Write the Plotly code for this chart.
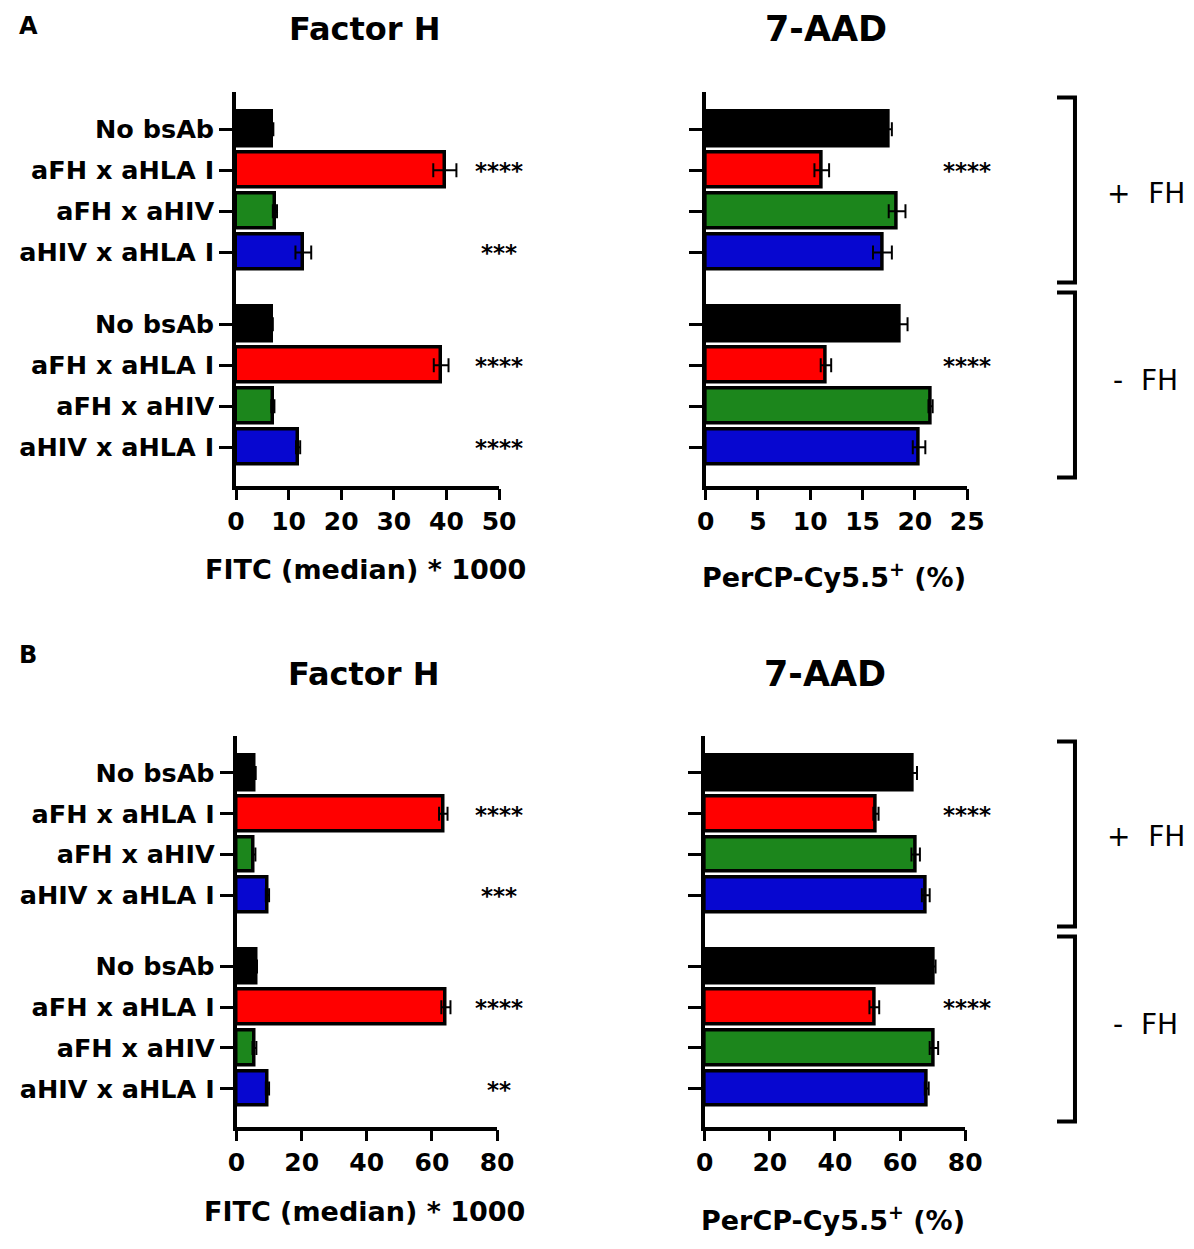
import plotly.graph_objects as go

# rows (two blocks of four: + FH, - FH)
categories = ["No bsAb", "aFH x aHLA I", "aFH x aHIV", "aHIV x aHLA I"]
groups = ["+  FH", "-  FH"]
bar_colors = ["#000000", "#ff0000", "#1c861c", "#0707d0"]

# panel A
a_fh = [6.8, 39.7, 7.4, 12.8, 6.8, 39.0, 7.0, 11.8]
a_fh_err = [0.3, 2.2, 0.4, 1.5, 0.2, 1.4, 0.3, 0.4]
a_fh_sig = ["", "****", "", "***", "", "****", "", "****"]
a_aad = [17.5, 11.1, 18.3, 16.9, 18.5, 11.5, 21.5, 20.4]
a_aad_err = [0.3, 0.7, 0.8, 0.9, 0.8, 0.5, 0.2, 0.6]
a_aad_sig = ["", "****", "", "", "", "****", "", ""]

# panel B
b_fh = [5.6, 63.5, 5.3, 9.5, 6.0, 64.3, 5.5, 9.5]
b_fh_err = [0.3, 1.3, 0.5, 0.5, 0.3, 1.4, 0.6, 0.5]
b_fh_sig = ["", "****", "", "***", "", "****", "", "**"]
b_aad = [64.0, 52.6, 64.8, 67.9, 70.3, 52.1, 70.4, 68.2]
b_aad_err = [1.2, 0.8, 1.3, 1.2, 0.6, 1.5, 1.3, 0.6]
b_aad_sig = ["", "****", "", "", "", "****", "", ""]

W, H = 1194, 1249
FONT = "DejaVu Sans"


# pixel position in the target picture -> paper fraction
# (small correction for the page offset seen in the screenshot)
def px(x):
    return max((x - 14.1) / 0.98, 0) / W


def py(y):
    return 1 - (y - 8.5) / H


# row positions: four rows, a gap, four rows
ypos = [i + g * 4.75 for g in range(2) for i in range(4)]
row_cols = bar_colors * 2

panels = [
    dict(vals=a_fh, err=a_fh_err, sig=a_fh_sig, x0=233.5, x1=497, top=92, bot=486,
         rng=50, dtick=10, labels=True, title="Factor H", tsize=32, tx=-3, ty=0,
         xtitle="FITC (median) * 1000", star_x=497),
    dict(vals=a_aad, err=a_aad_err, sig=a_aad_sig, x0=704, x1=966, top=92, bot=486,
         rng=25, dtick=5, labels=False, title="7-AAD", tsize=35, tx=-10, ty=6,
         xtitle="PerCP-Cy5.5<sup>+</sup> (%)", star_x=966),
    dict(vals=b_fh, err=b_fh_err, sig=b_fh_sig, x0=234, x1=495, top=736, bot=1127,
         rng=80, dtick=20, labels=True, title="Factor H", tsize=32, tx=-3, ty=1,
         xtitle="FITC (median) * 1000", star_x=497),
    dict(vals=b_aad, err=b_aad_err, sig=b_aad_sig, x0=703, x1=964, top=736, bot=1127,
         rng=80, dtick=20, labels=False, title="7-AAD", tsize=35, tx=-10, ty=8,
         xtitle="PerCP-Cy5.5<sup>+</sup> (%)", star_x=966),
]

fig = go.Figure()
annotations = []
shapes = []


def note(text, x, y, size, bold=True, yref="paper", yshift=0, xanchor="center"):
    annotations.append(dict(text=text, x=x, y=y, xref="paper", yref=yref, xanchor=xanchor,
                            yanchor="middle", showarrow=False, yshift=yshift,
                            font=dict(family=FONT, size=size, color="black",
                                      weight="bold" if bold else "normal")))


for k, p in enumerate(panels):
    n = "" if k == 0 else str(k + 1)
    fig.add_trace(go.Bar(
        x=p["vals"], y=ypos, orientation="h", width=0.85,
        marker=dict(color=row_cols, line=dict(color="black", width=3.5)),
        error_x=dict(type="data", array=p["err"], color="black", thickness=2, width=7),
        xaxis="x" + n, yaxis="y" + n, showlegend=False,
    ))
    axis_common = dict(showgrid=False, zeroline=False, showline=True, linecolor="black",
                       linewidth=3.5, ticks="outside", tickcolor="black", tickwidth=3)
    fig.update_layout(**{
        "xaxis" + n: dict(axis_common, domain=[px(p["x0"]), px(p["x1"])], range=[0, p["rng"]],
                          dtick=p["dtick"], ticklen=11, anchor="y" + n,
                          tickfont=dict(family=FONT, size=25, color="black", weight="bold")),
        "yaxis" + n: dict(axis_common, domain=[py(p["bot"]), py(p["top"])], range=[8.68, -0.92],
                          tickvals=ypos, ticktext=categories * 2, showticklabels=p["labels"],
                          ticklen=13, anchor="x" + n,
                          tickfont=dict(family=FONT, size=25.5, color="black", weight="bold")),
    })
    # panel title and x-axis title
    mid = (p["x0"] + p["x1"]) / 2
    note(p["title"], px(mid + p["tx"]), py(p["top"] - 62), p["tsize"])
    note(p["xtitle"], px(mid - 2), py(p["bot"] + 84 + p["ty"]), 27)
    # significance stars
    for yv, s in zip(ypos, p["sig"]):
        if s:
            note(s, px(p["star_x"]), yv, 23, yref="y" + n, yshift=-1)
    # group brackets on the right of the 7-AAD panels
    if not p["labels"]:
        for g, lab in enumerate(groups):
            ytop = p["top"] + 6 + g * 195
            ybot = ytop + 185
            xb = 1074
            shapes.append(dict(type="path", xref="paper", yref="paper",
                               path=f"M {px(xb - 18)},{py(ytop)} L {px(xb)},{py(ytop)} "
                                    f"L {px(xb)},{py(ybot)} L {px(xb - 18)},{py(ybot)}",
                               line=dict(color="black", width=4)))
            note(lab, px(1145), py((ytop + ybot) / 2 + (3 if g == 0 else -5)), 28, bold=False)

# panel letters
note("A", px(0), py(26), 24, xanchor="left")
note("B", px(0), py(655), 24, xanchor="left")

fig.update_layout(
    width=W, height=H, margin=dict(l=0, r=0, t=0, b=0),
    plot_bgcolor="white", paper_bgcolor="white",
    annotations=annotations, shapes=shapes, bargap=0,
)

fig.write_html("out.html")
